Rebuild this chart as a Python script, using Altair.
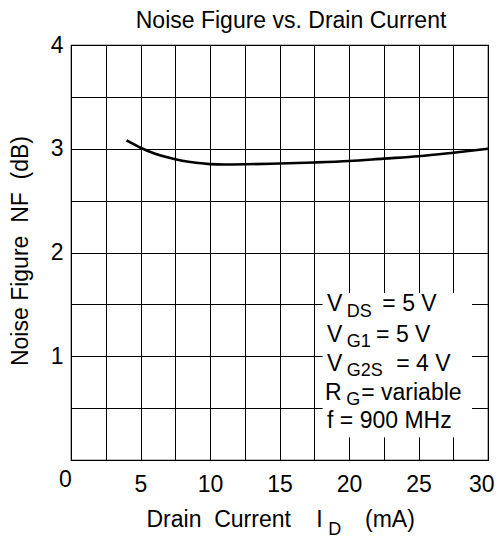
import altair as alt
import pandas as pd

FONT = "Liberation Sans"

# Curve: noise figure vs drain current
id_ma = [4, 5, 6, 7, 8, 9, 10, 11, 12.5, 15, 17.5, 20, 22.5, 25, 27.5, 30]
nf_db = [3.08, 3.01, 2.955, 2.915, 2.885, 2.865, 2.852, 2.848, 2.85, 2.858,
         2.868, 2.882, 2.905, 2.928, 2.962, 3.0]

# Axis grid values
x_grid = [0, 2.5, 5, 7.5, 10, 12.5, 15, 17.5, 20, 22.5, 25, 27.5, 30]
y_grid = [0, 0.5, 1, 1.5, 2, 2.5, 3, 3.5, 4]

# Condition box (data coordinates)
box_x = [18.1, 28.85]
box_y = [0.22, 1.61]

title_text = "Noise Figure vs. Drain Current"
title_pos = [15.83, 4.161]

# Annotation texts (conditions box, origin label, x-axis title pieces)
ann_label = ["V", "DS", "= 5 V",
             "V", "G1", "= 5 V",
             "V", "G2S", "= 4 V",
             "R", "G", "= variable",
             "f = 900 MHz",
             "0",
             "Drain\u00a0\u00a0Current", "I", "D", "(mA)"]
ann_x = [18.42, 19.84, 22.40,
         18.42, 19.84, 21.95,
         18.42, 19.84, 23.40,
         18.28, 19.80, 20.88,
         18.42,
         -0.86,
         5.43, 17.65, 18.50, 21.15]
ann_y = [1.436, 1.381, 1.436,
         1.140, 1.092, 1.140,
         0.858, 0.812, 0.858,
         0.578, 0.530, 0.578,
         0.304,
         -0.26,
         -0.643, -0.643, -0.723, -0.643]
ann_fs = [23, 18, 23,
          23, 18, 23,
          23, 18, 23,
          23, 18, 23,
          23,
          23,
          23, 23, 18, 23]

curve_df = pd.DataFrame({"id": id_ma, "nf": nf_db})
box_df = pd.DataFrame({"x0": [box_x[0]], "x1": [box_x[1]], "y0": [box_y[0]], "y1": [box_y[1]]})
ann_df = pd.DataFrame({"label": ann_label, "x": ann_x, "y": ann_y, "fs": ann_fs})
title_df = pd.DataFrame({"label": [title_text], "x": [title_pos[0]], "y": [title_pos[1]]})

xs = alt.Scale(domain=[0, 30], nice=False, zero=False)
ys = alt.Scale(domain=[0, 4], nice=False, zero=False)

x_axis = alt.Axis(values=x_grid, grid=True, gridColor="black", gridOpacity=1, gridWidth=1,
                  domain=False, ticks=False, tickSize=0,
                  labelExpr="datum.value % 5 == 0 && datum.value > 0 ? format(datum.value, 'd') : ''",
                  labelFont=FONT, labelFontSize=23, labelColor="black", labelPadding=31,
                  labelBaseline="alphabetic", labelFlush=True, labelFlushOffset=6,
                  labelOverlap=False, title=None)
y_axis = alt.Axis(values=y_grid, grid=True, gridColor="black", gridOpacity=1, gridWidth=1,
                  domain=False, ticks=False, tickSize=0,
                  labelExpr="datum.value % 1 == 0 && datum.value > 0 ? format(datum.value, 'd') : ''",
                  labelFont=FONT, labelFontSize=23, labelColor="black", labelPadding=8,
                  labelBaseline="middle", labelFlush=False, labelOverlap=False,
                  title="Noise\u00a0Figure\u00a0\u00a0NF\u00a0\u00a0(dB)",
                  titleFont=FONT, titleFontSize=23, titleFontWeight="normal", titleColor="black",
                  titleX=-44, titleY=205.5, titleAngle=270, titleAlign="center",
                  titleBaseline="alphabetic")

box = alt.Chart(box_df).mark_rect(fill="white").encode(
    x=alt.X("x0:Q", scale=xs, axis=x_axis), x2="x1:Q",
    y=alt.Y("y0:Q", scale=ys, axis=y_axis), y2="y1:Q")

curve = alt.Chart(curve_df).mark_line(color="black", strokeWidth=2.6, interpolate="monotone").encode(
    x=alt.X("id:Q", scale=xs, axis=x_axis),
    y=alt.Y("nf:Q", scale=ys, axis=y_axis))

texts = alt.Chart(ann_df).mark_text(align="left", baseline="alphabetic", font=FONT, color="black").encode(
    x=alt.X("x:Q", scale=xs, axis=x_axis),
    y=alt.Y("y:Q", scale=ys, axis=y_axis),
    text="label:N",
    size=alt.Size("fs:Q", scale=None, legend=None))

title = alt.Chart(title_df).mark_text(align="center", baseline="alphabetic", font=FONT,
                                      fontSize=23, color="black").encode(
    x=alt.X("x:Q", scale=xs, axis=x_axis),
    y=alt.Y("y:Q", scale=ys, axis=y_axis),
    text="label:N")

chart = alt.layer(box, curve, texts, title).properties(
    width=417, height=415,
    autosize=alt.AutoSizeParams(type="none"),
    padding={"left": 63, "top": 37, "right": 7, "bottom": 78},
    background="white",
).configure_view(stroke="black", strokeWidth=1.2)

chart.save("out.html", embed_options={"renderer": "svg", "actions": False})
